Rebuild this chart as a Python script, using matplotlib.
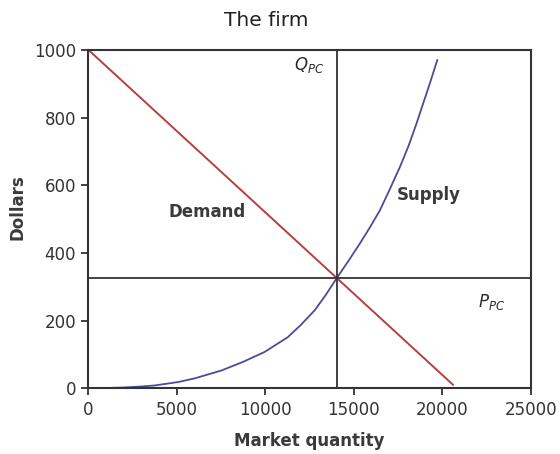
import matplotlib
matplotlib.use("Agg")
import matplotlib.pyplot as plt

plt.rcParams['font.family'] = ['DejaVu Sans']
plt.rcParams['mathtext.fontset'] = 'dejavusans'

# Demand line (market quantity, dollars)
demand_q = [0, 20600]
demand_p = [1000, 10]

# Supply curve
supply_q = [0, 1000, 2000, 3000, 3740, 5060, 6000, 7500, 8700, 9950,
            11270, 12000, 12780, 13400, 14050, 14700, 15340, 15900, 16470,
            17000, 17600, 18100, 18540, 18900, 19290, 19710]
supply_p = [0, 0.5, 2, 5, 8, 18, 29, 52, 77, 107,
            151, 187, 230, 275, 327, 377, 428, 475, 526,
            585, 654, 718, 783, 840, 901, 970]

# Competitive equilibrium
q_pc = 14050
p_pc = 327

x_ticks = [0, 5000, 10000, 15000, 20000, 25000]
y_ticks = [0, 200, 400, 600, 800, 1000]

fig = plt.figure(figsize=(5.6, 4.54), dpi=100)
ax = fig.add_axes([0.158, 0.145, 0.79, 0.745])

ax.plot(supply_q, supply_p, color='#4b4b9c', linewidth=1.3)
ax.plot(demand_q, demand_p, color='#b5403f', linewidth=1.4)
ax.axvline(q_pc, color='#333333', linewidth=1.3)
ax.axhline(p_pc, color='#333333', linewidth=1.3)

ax.set_xlim(0, 25000)
ax.set_ylim(0, 1000)
ax.set_xticks(x_ticks)
ax.set_yticks(y_ticks)
ax.tick_params(direction='out', length=5, width=1.3, colors='#333333',
               labelsize=12, pad=4)
for s in ax.spines.values():
    s.set_linewidth(1.5)
    s.set_color('#333333')

fig.text(266 / 560, 1 - 20 / 454, 'The firm', fontsize=14.5,
         color='#222222', ha='center', va='center')
fig.text(309 / 560, 1 - 441 / 454, 'Market quantity', fontsize=12,
         fontweight='bold', color='#3a3a3a', ha='center', va='center')
fig.text(18 / 560, 1 - 207 / 454, 'Dollars', fontsize=12,
         fontweight='bold', color='#3a3a3a', ha='center', va='center',
         rotation=90)

ax.text(6720, 521, 'Demand', fontsize=12, fontweight='bold',
        color='#3a3a3a', ha='center', va='center')
ax.text(17430, 571, 'Supply', fontsize=12, fontweight='bold',
        color='#3a3a3a', ha='left', va='center')
ax.text(13300, 955, r'$Q_{PC}$', fontsize=12, color='#2a2a2a', ha='right',
        va='center')
ax.text(22000, 255, r'$P_{PC}$', fontsize=12, color='#2a2a2a', ha='left',
        va='center')

fig.savefig('out.png', dpi=100)
